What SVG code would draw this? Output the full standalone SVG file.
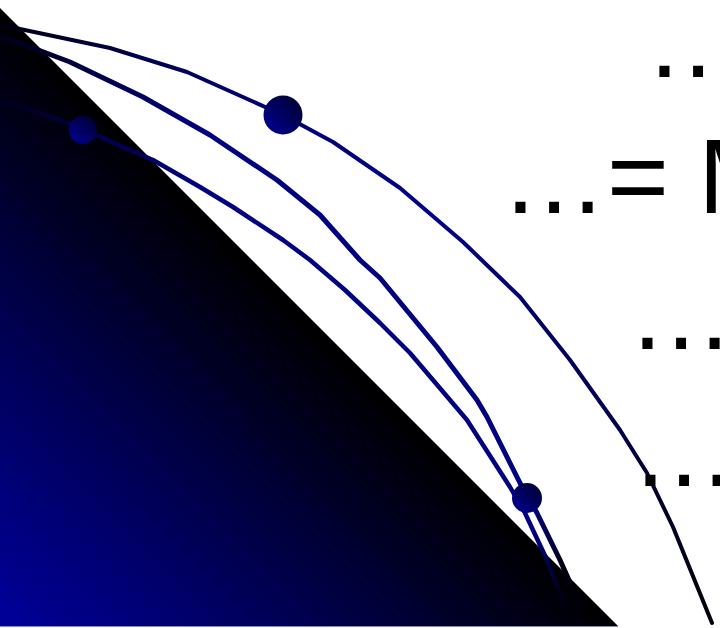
<svg xmlns="http://www.w3.org/2000/svg" width="720" height="628" viewBox="0 0 720 628">
<defs>
<linearGradient id="triGrad" gradientUnits="userSpaceOnUse" x1="0" y1="628" x2="310" y2="318">
<stop offset="0" stop-color="#00009c"/>
<stop offset="0.5" stop-color="#000050"/>
<stop offset="1" stop-color="#000000"/>
</linearGradient>
<linearGradient id="ballGrad" x1="0" y1="1" x2="1" y2="0">
<stop offset="0" stop-color="#00009a"/>
<stop offset="1" stop-color="#000028"/>
</linearGradient>
<linearGradient id="line1Grad" gradientUnits="userSpaceOnUse" x1="0" y1="0" x2="712" y2="0">
<stop offset="0" stop-color="#000010"/>
<stop offset="0.3" stop-color="#000068"/>
<stop offset="0.6" stop-color="#00008a"/>
<stop offset="0.85" stop-color="#000050"/>
<stop offset="1" stop-color="#000008"/>
</linearGradient>
<linearGradient id="line2Grad" gradientUnits="userSpaceOnUse" x1="0" y1="0" x2="580" y2="0">
<stop offset="0" stop-color="#000018"/>
<stop offset="0.35" stop-color="#000080"/>
<stop offset="0.92" stop-color="#000080"/>
<stop offset="0.97" stop-color="#000012"/>
<stop offset="1" stop-color="#00000a"/>
</linearGradient>
<style>
.curve{fill:none;stroke-linejoin:round;stroke-linecap:round}
.ball{fill:url(#ballGrad)}
.t{font-family:"Liberation Sans",Arial,sans-serif;font-size:106px;fill:#000}
</style>
</defs>
<rect width="720" height="628" fill="#ffffff"/>
<g id="triangle">
<polygon points="0,8 618,626 0,626" fill="url(#triGrad)"/>
<line x1="0" y1="626.5" x2="618" y2="626.5" stroke="#8a8ab8" stroke-width="1"/>
</g>
<g id="connectors">
<polyline class="curve" stroke="url(#line1Grad)" stroke-width="4" points="0,24 20,29 110,48 187,72 283,115 333,142 400,188 463,242 520,297 570,360 620,430 647,473 673,527 712,623"/>
<polyline class="curve" stroke="url(#line2Grad)" stroke-width="5" points="0,36 33,48 70,62 143,97 210,135 277,180 320,215 360,260 380,278 437,347 477,400 487,417 520,483 537,513 560,560 580,605"/>
<polyline class="curve" stroke="url(#line2Grad)" stroke-width="4.5" points="0,100 60,120 83,130 100,137 153,160 200,187 233,207 283,240 310,260 345,290 380,323 410,353 450,400 467,420 510,487 525,513 547,560 565,605"/>
</g>
<g id="ball1"><circle class="ball" cx="283" cy="115" r="19.5"/></g>
<g id="ball2"><circle class="ball" cx="83" cy="130" r="14"/></g>
<g id="ball3"><circle class="ball" cx="527" cy="498" r="15"/></g>
<g id="text1"><text class="t" x="645" y="77">…</text></g>
<g id="text2"><text class="t" x="501" y="213">…= M</text></g>
<g id="text3"><text class="t" x="628" y="349">…</text></g>
<g id="text4"><text class="t" x="631" y="486">…</text></g>
</svg>
